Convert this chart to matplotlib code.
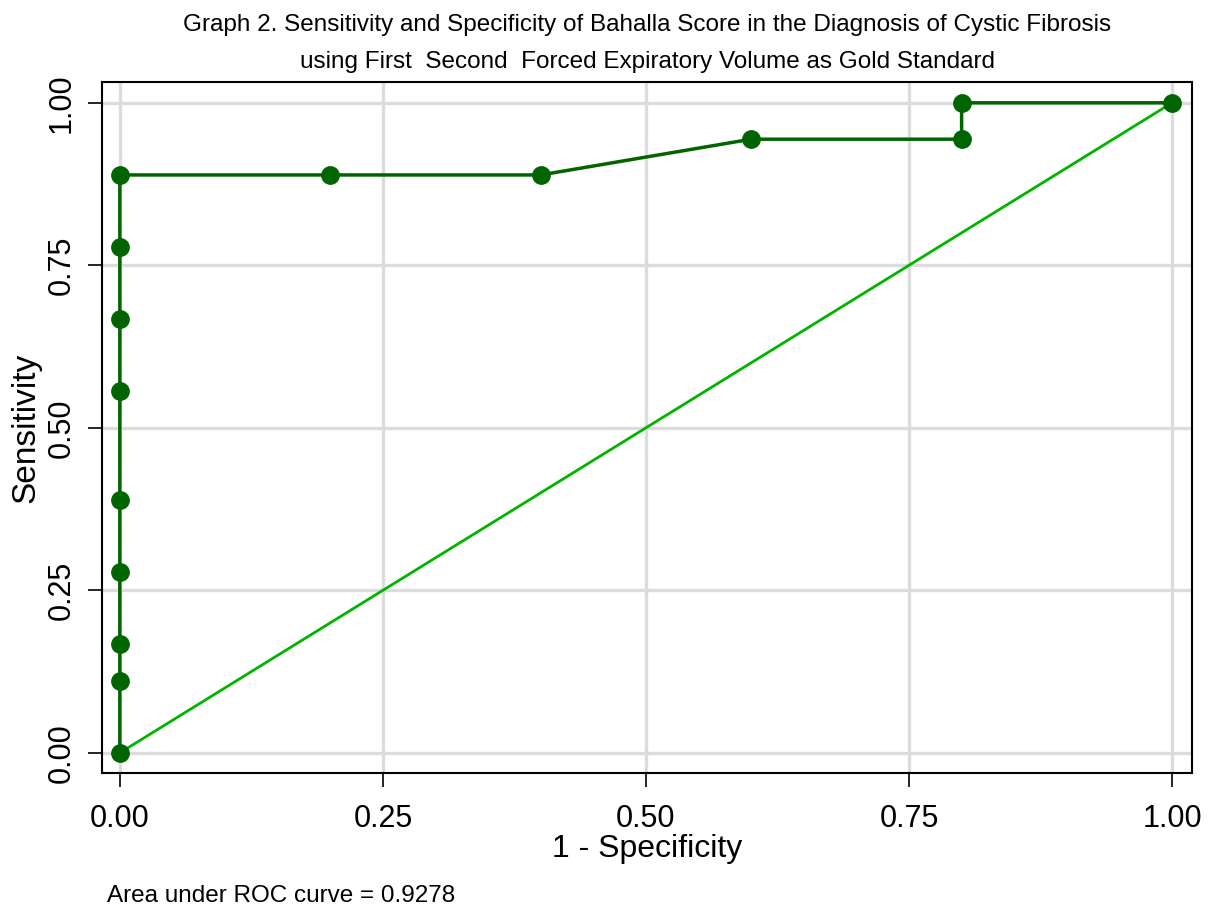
import matplotlib.pyplot as plt
from matplotlib import font_manager

# ROC points (1 - specificity, sensitivity)
fpr = [0.0, 0.0, 0.0, 0.0, 0.0, 0.0, 0.0, 0.0, 0.0, 0.2, 0.4, 0.6, 0.8, 0.8, 1.0]
tpr = [0.0, 0.111, 0.167, 0.278, 0.389, 0.556, 0.667, 0.778, 0.889, 0.889, 0.889, 0.944, 0.944, 1.0, 1.0]
ref_line = [0.0, 1.0]
ticks = [0.0, 0.25, 0.5, 0.75, 1.0]
tick_labels = ['0.00', '0.25', '0.50', '0.75', '1.00']
auc_text = 'Area under ROC curve = 0.9278'

names = {f.name for f in font_manager.fontManager.ttflist}
fam = ['Liberation Sans Narrow', 'Liberation Sans', 'DejaVu Sans']
fam = [f for f in fam if f in names] or ['DejaVu Sans']
plt.rcParams['font.family'] = fam

fig = plt.figure(figsize=(12.18, 9.08), dpi=100)
ax = fig.add_axes([0.0837, 0.1487, 0.895, 0.761])

ax.plot(ref_line, ref_line, color='#00b400', lw=2, zorder=3)
ax.plot(fpr, tpr, color='#006400', lw=2.5, marker='o', markersize=12.5, zorder=4)

ax.set_xlim(-0.017, 1.019)
ax.set_ylim(-0.031, 1.032)
ax.set_xticks(ticks)
ax.set_xticklabels(tick_labels, fontsize=22)
ax.set_yticks(ticks)
ax.set_yticklabels(tick_labels, fontsize=22, rotation=90, va='center')
ax.tick_params(direction='out', length=10, width=1.2)
ax.tick_params(axis='x', pad=12)
ax.tick_params(axis='y', pad=8)
ax.grid(True, color='#dcdcdc', lw=2.4, zorder=0)
ax.set_axisbelow(True)
for s in ax.spines.values():
    s.set_linewidth(1.5)

ax.set_xlabel('1 - Specificity', fontsize=23, labelpad=0)
ax.set_ylabel('Sensitivity', fontsize=24, labelpad=4)
ax.set_title('Graph 2. Sensitivity and Specificity of Bahalla Score in the Diagnosis of Cystic Fibrosis\n'
             'using First  Second  Forced Expiratory Volume as Gold Standard',
             fontsize=17.5, linespacing=1.9, pad=10)

fig.text(107 / 1218, 1 - 902 / 908, auc_text, fontsize=17.5)

plt.savefig('out.png', dpi=100, facecolor='white')
